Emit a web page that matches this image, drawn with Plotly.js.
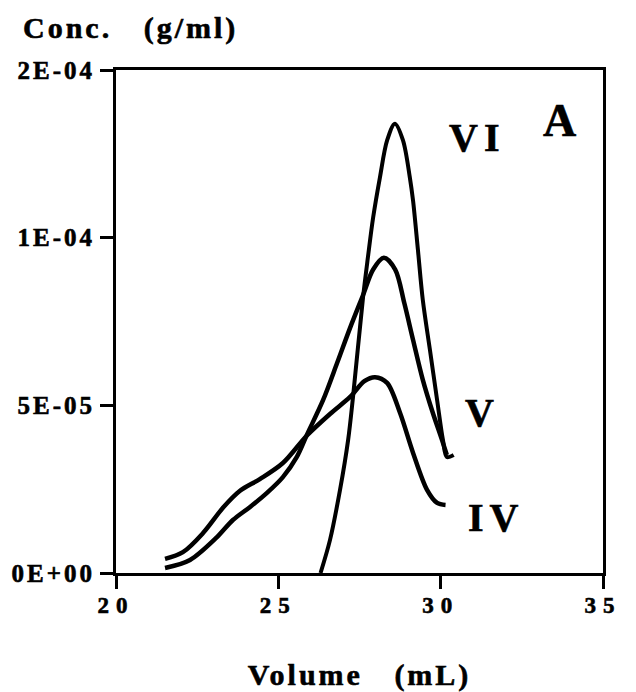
<!DOCTYPE html>
<html>
<head>
<meta charset="utf-8">
<script src="https://cdn.plot.ly/plotly-3.0.1.min.js"></script>
<style>
  html, body { margin: 0; padding: 0; background: #fff; }
  #chart { width: 636px; height: 692px; }
  .xtick text { letter-spacing: 7px; stroke: #000; stroke-width: 0.6px; }
  .ytick text { letter-spacing: 3px; stroke: #000; stroke-width: 0.6px; }
  .g-xtitle text, .gtitle { letter-spacing: 3px; stroke: #000; stroke-width: 0.6px; }
  .annotation-text { letter-spacing: 6px; stroke: #000; stroke-width: 0.6px; }
</style>
</head>
<body>
<div id="chart"></div>
<script>
// Fraction IV
const volIV  = [21.51, 22.06, 22.68, 23.30, 23.82, 24.43, 25.14, 25.88, 26.60, 27.21, 27.65, 27.98, 28.35, 28.75, 29.15, 29.58, 29.89, 30.15];
const concIV = [4.2e-6, 6.2e-6, 1.19e-5, 1.95e-5, 2.45e-5, 2.80e-5, 3.28e-5, 4.10e-5, 4.75e-5, 5.25e-5, 5.72e-5, 5.84e-5, 5.67e-5, 4.77e-5, 3.58e-5, 2.48e-5, 2.09e-5, 2.03e-5];

// Fraction V
const volV  = [21.51, 22.28, 23.11, 23.60, 24.13, 24.65, 25.14, 25.57, 25.88, 26.38, 26.81, 27.21, 27.61, 27.92, 28.25, 28.60, 28.88, 29.15, 29.45, 29.76, 30.04, 30.19];
const concV = [1.5e-6, 3.9e-6, 1.07e-5, 1.58e-5, 1.97e-5, 2.39e-5, 2.86e-5, 3.46e-5, 4.12e-5, 5.16e-5, 6.26e-5, 7.31e-5, 8.29e-5, 9.05e-5, 9.40e-5, 9.05e-5, 8.05e-5, 6.95e-5, 5.76e-5, 4.77e-5, 3.97e-5, 3.52e-5];

// Fraction VI
const volVI  = [26.30, 26.59, 26.90, 27.15, 27.30, 27.61, 27.76, 27.92, 28.13, 28.35, 28.59, 28.84, 29.05, 29.15, 29.30, 29.45, 29.67, 29.89, 30.07, 30.19, 30.40];
const concVI = [0, 9.8e-6, 2.48e-5, 3.97e-5, 5.25e-5, 8.23e-5, 9.42e-5, 1.06e-4, 1.18e-4, 1.29e-4, 1.34e-4, 1.29e-4, 1.18e-4, 1.11e-4, 9.63e-5, 8.14e-5, 6.65e-5, 5.16e-5, 3.97e-5, 3.46e-5, 3.52e-5];

const xTickVals = [20, 25, 30, 35];
const xTickText = ["20", "25", "30", "35"];
const yTickVals = [0, 5e-5, 1e-4, 1.5e-4];
const yTickText = ["0E+00", "5E-05", "1E-04", "2E-04"];

const seriesNames = ["IV", "V", "VI"];

const FONT = "Liberation Serif, Times New Roman, serif";
const lineStyle = { color: "#000", width: 4.5, shape: "spline", smoothing: 0.9 };

const traces = [
  { x: volIV, y: concIV, name: seriesNames[0], mode: "lines", line: lineStyle, hoverinfo: "skip" },
  { x: volV,  y: concV,  name: seriesNames[1], mode: "lines", line: lineStyle, hoverinfo: "skip" },
  { x: volVI, y: concVI, name: seriesNames[2], mode: "lines", line: Object.assign({}, lineStyle, {width: 4}), hoverinfo: "skip" }
];

const labelFont = { family: FONT, size: 40, color: "#000", weight: "bold" };

const layout = {
  width: 636, height: 692,
  margin: { l: 116, r: 33, t: 70, b: 119 },
  paper_bgcolor: "#fff", plot_bgcolor: "#fff",
  showlegend: false,
  title: {
    text: "Conc.\u00a0\u00a0\u00a0(g/ml)",
    font: { family: FONT, size: 30, color: "#000", weight: "bold" },
    xref: "container", yref: "container",
    x: 23 / 636, xanchor: "left",
    y: 1 - 27 / 692, yanchor: "middle"
  },
  xaxis: {
    range: [20, 35],
    tickmode: "array", tickvals: xTickVals, ticktext: xTickText,
    ticks: "outside", ticklen: 13, tickwidth: 3, tickcolor: "#000",
    ticklabelstandoff: -4,
    showline: true, linewidth: 3, linecolor: "#000", mirror: true,
    showgrid: false, zeroline: false,
    tickfont: { family: FONT, size: 23, color: "#000", weight: "bold" },
    title: {
      text: "Volume\u00a0\u00a0\u00a0(mL)",
      font: { family: FONT, size: 30, color: "#000", weight: "bold" },
      standoff: 50
    },
    fixedrange: true
  },
  yaxis: {
    range: [0, 1.5e-4],
    tickmode: "array", tickvals: yTickVals, ticktext: yTickText,
    ticks: "outside", ticklen: 13, tickwidth: 3, tickcolor: "#000",
    showline: true, linewidth: 3, linecolor: "#000", mirror: true,
    showgrid: false, zeroline: false,
    tickfont: { family: FONT, size: 25, color: "#000", weight: "bold" },
    fixedrange: true
  },
  annotations: [
    { text: "VI", x: 31.12, y: 1.30e-4, xref: "x", yref: "y", showarrow: false, font: labelFont },
    { text: "A",  x: 33.76, y: 1.35e-4, xref: "x", yref: "y", showarrow: false, font: { family: FONT, size: 46, color: "#000", weight: "bold" } },
    { text: "V",  x: 31.30, y: 4.80e-5, xref: "x", yref: "y", showarrow: false, font: labelFont },
    { text: "IV", x: 31.70, y: 1.66e-5, xref: "x", yref: "y", showarrow: false, font: labelFont }
  ]
};

Plotly.newPlot("chart", traces, layout, { staticPlot: true, displayModeBar: false });
</script>
</body>
</html>
